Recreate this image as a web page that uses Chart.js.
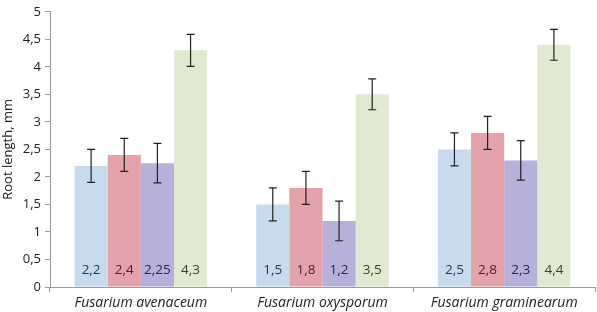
<!DOCTYPE html>
<html>
<head>
<meta charset="utf-8">
<script src="https://cdn.jsdelivr.net/npm/chart.js@4"></script>
<style>
  html, body { margin: 0; padding: 0; background: #fff; }
  #wrap { width: 597px; height: 312px; position: relative; }
</style>
</head>
<body>
<div id="wrap"><canvas id="chart"></canvas></div>
<script>
// Data
const categories = ['Fusarium avenaceum', 'Fusarium oxysporum', 'Fusarium graminearum'];
const seriesA = [2.2, 1.5, 2.5];
const seriesB = [2.4, 1.8, 2.8];
const seriesC = [2.25, 1.2, 2.3];
const seriesD = [4.3, 3.5, 4.4];
const errA = [0.3, 0.3, 0.3];
const errB = [0.3, 0.3, 0.3];
const errC = [0.36, 0.36, 0.36];
const errD = [0.29, 0.28, 0.28];
const valueLabelsA = ['2,2', '1,5', '2,5'];
const valueLabelsB = ['2,4', '1,8', '2,8'];
const valueLabelsC = ['2,25', '1,2', '2,3'];
const valueLabelsD = ['4,3', '3,5', '4,4'];
const yTicks = ['0', '0,5', '1', '1,5', '2', '2,5', '3', '3,5', '4', '4,5', '5'];

const FONT = '"Open Sans", Lato, sans-serif';

// Error bars drawn from the scales
const errorBarPlugin = {
    id: 'errorBars',
    afterDatasetsDraw(chart) {
        const ctx = chart.ctx;
        const y = chart.scales.y;
        ctx.save();
        ctx.strokeStyle = '#222';
        ctx.lineWidth = 1.2;
        chart.data.datasets.forEach((ds, i) => {
            const meta = chart.getDatasetMeta(i);
            meta.data.forEach((bar, j) => {
                const top = y.getPixelForValue(ds.data[j] + ds.errors[j]);
                const bot = y.getPixelForValue(ds.data[j] - ds.errors[j]);
                ctx.beginPath();
                ctx.moveTo(bar.x, top);
                ctx.lineTo(bar.x, bot);
                ctx.moveTo(bar.x - 4, top);
                ctx.lineTo(bar.x + 4, top);
                ctx.moveTo(bar.x - 4, bot);
                ctx.lineTo(bar.x + 4, bot);
                ctx.stroke();
            });
        });
        ctx.restore();
    }
};

// Value labels near the bottom of each bar
const valueLabelPlugin = {
    id: 'valueLabels',
    afterDatasetsDraw(chart) {
        const ctx = chart.ctx;
        const base = chart.scales.y.getPixelForValue(0);
        ctx.save();
        ctx.font = '13.5px ' + FONT;
        ctx.textAlign = 'center';
        ctx.textBaseline = 'middle';
        chart.data.datasets.forEach((ds, i) => {
            const meta = chart.getDatasetMeta(i);
            ctx.fillStyle = ds.labelColor;
            meta.data.forEach((bar, j) => {
                ctx.fillText(ds.valueLabels[j], bar.x, base - 17);
            });
        });
        ctx.restore();
    }
};

const ctx = document.getElementById('chart').getContext('2d');
new Chart(ctx, {
    type: 'bar',
    data: {
        labels: categories,
        datasets: [
            { data: seriesA, errors: errA, valueLabels: valueLabelsA, backgroundColor: '#c8dbee', labelColor: '#1f3558' },
            { data: seriesB, errors: errB, valueLabels: valueLabelsB, backgroundColor: '#e4a2aa', labelColor: '#4a1f27' },
            { data: seriesC, errors: errC, valueLabels: valueLabelsC, backgroundColor: '#b5b1d8', labelColor: '#272650' },
            { data: seriesD, errors: errD, valueLabels: valueLabelsD, backgroundColor: '#e2e9d3', labelColor: '#38421f' }
        ]
    },
    options: {
        responsive: true,
        maintainAspectRatio: false,
        animation: false,
        datasets: {
            bar: { categoryPercentage: 0.73, barPercentage: 1.0 }
        },
        layout: { padding: { top: 0, right: 2, left: 0, bottom: 0 } },
        plugins: {
            legend: { display: false },
            tooltip: { enabled: false }
        },
        scales: {
            x: {
                grid: { display: true, drawOnChartArea: false, offset: true, tickLength: 5, color: '#999' },
                border: { color: '#999' },
                ticks: { color: '#222', font: { family: FONT, size: 14, style: 'italic' }, padding: 3 },
                afterFit(scale) { scale.height = 25; }
            },
            y: {
                min: 0,
                max: 5,
                grid: { display: true, drawOnChartArea: false, tickLength: 5, color: '#999' },
                border: { color: '#999' },
                ticks: {
                    stepSize: 0.5,
                    color: '#222',
                    padding: 4,
                    font: { family: FONT, size: 13 },
                    callback: (v, i) => yTicks[i]
                },
                title: {
                    display: true,
                    text: 'Root length, mm',
                    color: '#222',
                    font: { family: FONT, size: 13 },
                    padding: { top: 0, bottom: 0 }
                },
                afterFit(scale) { scale.width = 50; }
            }
        }
    },
    plugins: [errorBarPlugin, valueLabelPlugin]
});
</script>
</body>
</html>
